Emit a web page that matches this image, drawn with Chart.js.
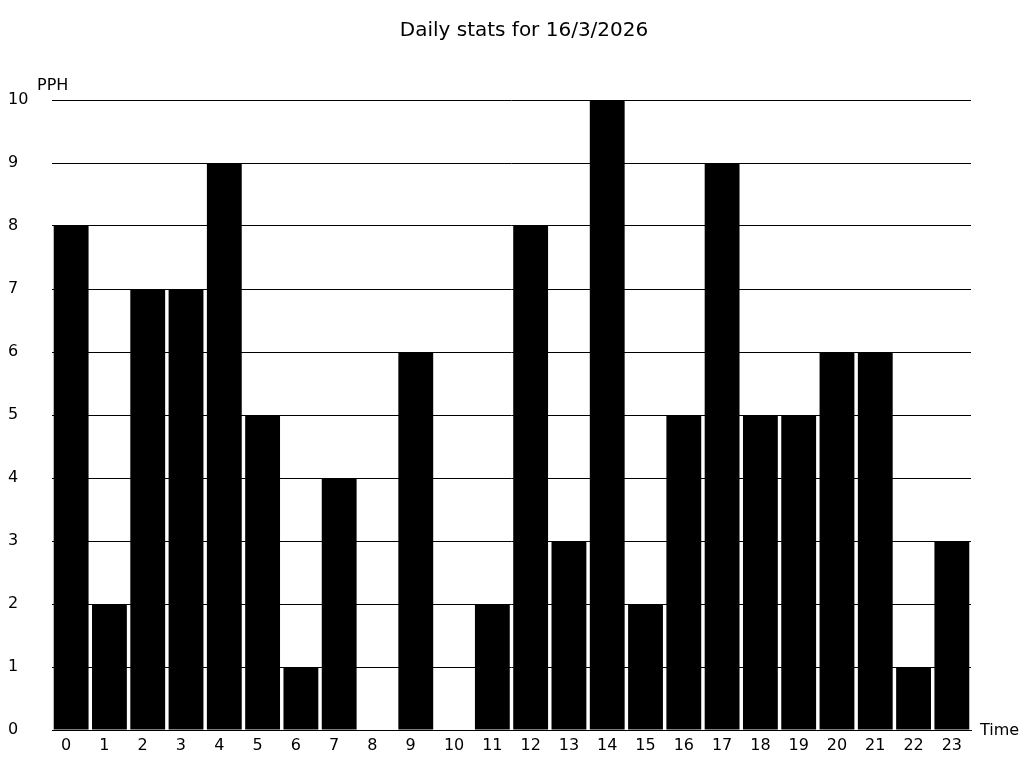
<!DOCTYPE html>
<html>
<head>
<meta charset="utf-8">
<title>Daily stats</title>
<script src="https://cdn.jsdelivr.net/npm/chart.js@4.4.1/dist/chart.umd.min.js"></script>
<style>
    html, body { margin: 0; padding: 0; background: #fff; }
    #wrap { width: 1024px; height: 768px; }
</style>
</head>
<body>
<div id="wrap"><canvas id="stats-chart" width="1024" height="768"></canvas></div>
<script>
    var hours = ['0','1','2','3','4','5','6','7','8','9','10','11','12','13','14','15','16','17','18','19','20','21','22','23'];
    var pphValues = [8, 2, 7, 7, 9, 5, 1, 4, 0, 6, 0, 2, 8, 3, 10, 2, 5, 9, 5, 5, 6, 6, 1, 3];
    var yTicks = [0, 1, 2, 3, 4, 5, 6, 7, 8, 9, 10];

    var chartTitle = 'Daily stats for 16/3/2026';
    var yLabel = 'PPH';
    var xLabel = 'Time';
    var fontFamily = '"DejaVu Sans", Verdana, sans-serif';

    // title and the two axis captions sit in odd places, so draw them by hand
    var captionsPlugin = {
        id: 'captions',
        afterDraw: function(chart){
            var ctx = chart.ctx;
            var area = chart.chartArea;
            ctx.save();
            ctx.fillStyle = '#000';
            ctx.textBaseline = 'middle';
            ctx.font = '20px ' + fontFamily;
            ctx.textAlign = 'center';
            ctx.fillText(chartTitle, 524, 31);
            ctx.font = '16px ' + fontFamily;
            ctx.textAlign = 'left';
            ctx.fillText(yLabel, area.left - 15, area.top - 14);
            ctx.fillText(xLabel, area.right + 9, area.bottom + 1);
            ctx.restore();
        }
    };

    function padLabel(label){
        // single digits are left aligned like the two digit ones
        return label.length < 2 ? label + '\u2007' : label;
    }

    function initChart(){
        var ctx = document.getElementById('stats-chart').getContext('2d');
        Chart.defaults.font.family = fontFamily;
        Chart.defaults.color = '#000';
        new Chart(ctx, {
            type: 'bar',
            data: {
                labels: hours,
                datasets: [{
                    label: yLabel,
                    data: pphValues,
                    backgroundColor: '#000',
                    borderWidth: 0,
                    categoryPercentage: 1.0,
                    barPercentage: 0.91
                }]
            },
            options: {
                responsive: false,
                animation: false,
                layout: {
                    padding: { left: 8, right: 53, top: 100, bottom: 0 }
                },
                plugins: {
                    legend: { display: false },
                    title: { display: false },
                    tooltip: { enabled: false }
                },
                scales: {
                    x: {
                        grid: { display: false, drawTicks: false },
                        border: { display: true, color: '#000', width: 1 },
                        ticks: {
                            font: { size: 16 },
                            color: '#000',
                            padding: 6,
                            maxRotation: 0,
                            autoSkip: false,
                            callback: function(value){
                                return padLabel(hours[value]);
                            }
                        },
                        afterFit: function(scale){ scale.height = 38; }
                    },
                    y: {
                        min: 0,
                        max: 10,
                        grid: { color: '#000', lineWidth: 1, drawTicks: false },
                        border: { display: false },
                        afterBuildTicks: function(scale){
                            scale.ticks = yTicks.map(function(v){ return { value: v }; });
                        },
                        ticks: {
                            font: { size: 16 },
                            color: '#000',
                            crossAlign: 'far',
                            padding: 0
                        },
                        afterFit: function(scale){ scale.width = 44; }
                    }
                }
            },
            plugins: [captionsPlugin]
        });
    }

    initChart();
</script>
</body>
</html>
